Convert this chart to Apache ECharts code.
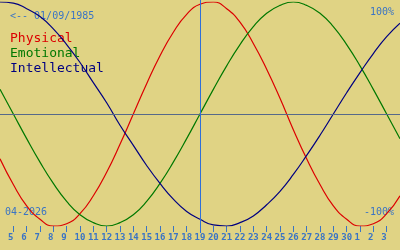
<!DOCTYPE html>
<html>
<head>
<meta charset="utf-8">
<style>html,body{margin:0;padding:0;background:#e0d384;}#c{width:400px;height:250px;}</style>
<script src="https://cdn.jsdelivr.net/npm/echarts@6/dist/echarts.min.js"></script>
</head>
<body>
<div id="c"></div>
<script>
// Day numbers (April 2026: 4 .. 30, then May 1..4 as 31..34)
const days = [4,5,6,7,8,9,10,11,12,13,14,15,16,17,18,19,20,21,22,23,24,25,26,27,28,29,30,31,32,33,34];
// Values in percent
const physical = [-40,-63,-82,-94,-100,-98,-89,-73,-52,-27,0,27,52,73,89,98,100,94,82,63,40,14,-14,-40,-63,-82,-94,-100,-98,-89,-73];
const emotional = [22,0,-22,-43,-62,-78,-90,-97,-100,-97,-90,-78,-62,-43,-22,0,22,43,62,78,90,97,100,97,90,78,62,43,22,0,-22];
const intellectual = [100,99,94,87,76,62,46,28,10,-10,-28,-46,-62,-76,-87,-94,-99,-100,-97,-91,-81,-69,-54,-37,-19,0,19,37,54,69,81];
// Tick positions and their labels
const tickDays = [5,6,7,8,9,10,11,12,13,14,15,16,17,18,19,20,21,22,23,24,25,26,27,28,29,30,31,32,33];
const tickLabels = ['5','6','7','8','9','10','11','12','13','14','15','16','17','18','19','20','21','22','23','24','25','26','27','28','29','30','1','2','3'];
const todayDay = 19;
const birthText = '<-- 01/09/1985';
const monthText = '04-2026';
const names = ['Physical','Emotional','Intellectual'];

const mono = 'DejaVu Sans Mono';
const blue = '#3a74c4';
const colors = ['#dc0000','#007800','#000080'];

function pairs(v){ return days.map((d,i)=>[d, v[i]]); }

const chart = echarts.init(document.getElementById('c'));
chart.setOption({
  backgroundColor: '#e0d384',
  animation: false,
  grid: [
    {left:0, right:0, top:2, bottom:24},
    {left:0, right:0, top:0, bottom:17}
  ],
  xAxis: [{
    type: 'value', min: 4, max: 34, interval: 1, gridIndex: 0,
    axisLine: {show:false, onZero:false},
    splitLine: {show:false},
    axisTick: {show:true, length:6, lineStyle:{color:blue, width:1}, customValues: tickDays},
    axisLabel: {
      customValues: tickDays,
      color: blue, fontFamily: mono, fontSize: 9, fontWeight: 'bold', margin: 7,
      formatter: function(v){
        const i = tickDays.indexOf(Math.round(v));
        if (i < 0) return '';
        const s = tickLabels[i];
        return s.length === 1 ? s + ' ' : s;
      }
    }
  },{
    type: 'value', min: 4, max: 34, gridIndex: 1, show: false
  }],
  yAxis: [
    {type:'value', min:-100, max:100, show:false, gridIndex:0},
    {type:'value', min:-100, max:100, show:false, gridIndex:1}
  ],
  series: [
    {name:names[0], type:'line', data:pairs(physical), symbol:'none', smooth:true, lineStyle:{color:colors[0], width:1.2}},
    {name:names[1], type:'line', data:pairs(emotional), symbol:'none', smooth:true, lineStyle:{color:colors[1], width:1.2}},
    {name:names[2], type:'line', data:pairs(intellectual), symbol:'none', smooth:true, lineStyle:{color:colors[2], width:1.2},
      markLine: {
        silent: true, symbol: ['none','none'], label:{show:false},
        data: [ {yAxis: 0} ],
        lineStyle: {color:'#56698a', width:1, type:'solid'}
      }
    },
    {name:'today', type:'line', xAxisIndex:1, yAxisIndex:1, data:[[todayDay, 0]], symbol:'none', lineStyle:{width:0},
      markLine: {
        silent: true, symbol: ['none','none'], label:{show:false},
        data: [ {xAxis: todayDay} ],
        lineStyle: {color:'#2f6fd8', width:1, type:'solid'}
      }
    }
  ],
  graphic: [
    {type:'text', x:10, y:16.5, style:{text:birthText, fill:blue, font:'10px "DejaVu Sans Mono"', textAlign:'left', textVerticalAlign:'middle'}},
    {type:'text', x:10, y:39, style:{text:names[0], fill:colors[0], font:'13px "DejaVu Sans Mono"', textAlign:'left', textVerticalAlign:'middle'}},
    {type:'text', x:10, y:54, style:{text:names[1], fill:colors[1], font:'13px "DejaVu Sans Mono"', textAlign:'left', textVerticalAlign:'middle'}},
    {type:'text', x:10, y:69, style:{text:names[2], fill:colors[2], font:'13px "DejaVu Sans Mono"', textAlign:'left', textVerticalAlign:'middle'}},
    {type:'text', x:5, y:212.5, style:{text:monthText, fill:blue, font:'10px "DejaVu Sans Mono"', textAlign:'left', textVerticalAlign:'middle'}},
    {type:'text', x:394, y:12.5, style:{text:'100%', fill:blue, font:'10px "DejaVu Sans Mono"', textAlign:'right', textVerticalAlign:'middle'}},
    {type:'text', x:394, y:212.5, style:{text:'-100%', fill:blue, font:'10px "DejaVu Sans Mono"', textAlign:'right', textVerticalAlign:'middle'}}
  ]
});
</script>
</body>
</html>
